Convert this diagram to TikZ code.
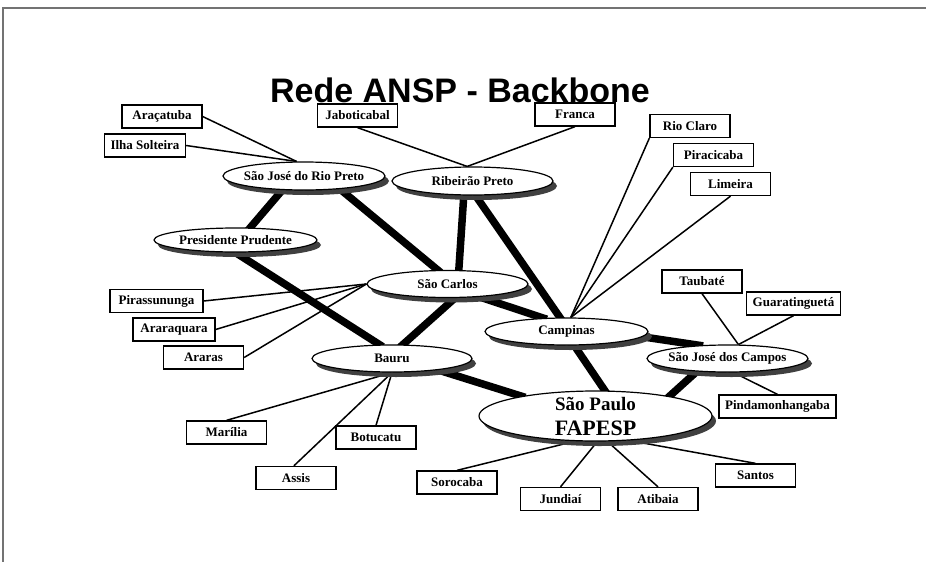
\documentclass[tikz,border=0pt]{standalone}
\usepackage{fontspec}
\setmainfont{Liberation Serif}
\newfontfamily\headfont{Liberation Sans}
\usetikzlibrary{shapes.geometric, shadows, backgrounds}
\tikzset{hub/.style={ellipse, draw, line width=1.2pt, fill=white, minimum width=161pt, minimum height=27pt, inner xsep=-10pt, inner ysep=0pt, font=\bfseries\fontsize{13}{14}\selectfont, drop shadow={shadow xshift=4pt, shadow yshift=-5pt, fill=black!75, opacity=1}}}
\tikzset{leaf/.style={draw, line width=1.3pt, fill=white, minimum width=80pt, minimum height=23pt, inner xsep=6pt, inner ysep=0pt, font=\bfseries\fontsize{13}{14}\selectfont}}
\tikzset{trunk/.style={draw, line width=7.5pt, shorten <=-4pt, shorten >=-4pt}}
\tikzset{twig/.style={draw, line width=1.5pt}}

\begin{document}
\begin{tikzpicture}[x=1pt, y=-1pt]
	\useasboundingbox (0,0) rectangle (926,562);
	\draw[black!55, line width=2pt] (3,562) -- (3,8) -- (926,8);
	\node[font=\headfont\bfseries\fontsize{34}{38}\selectfont] (title) at (460,90) {Rede ANSP - Backbone};
	%
	\node[hub, minimum width=162pt, minimum height=28pt] (sjrp) at (304,176) {São José do Rio Preto};
	\node[hub, minimum height=28pt] (rp) at (472.5,181) {Ribeirão Preto};
	\node[hub, minimum width=163pt, minimum height=24pt] (pp) at (235.5,240) {Presidente Prudente};
	\node[hub] (sc) at (447.5,284) {São Carlos};
	\node[hub, minimum width=160pt] (bauru) at (392,358.5) {Bauru};
	\node[hub, minimum width=163pt] (campinas) at (566.5,331.5) {Campinas};
	\node[hub] (sjc) at (727.5,358.5) {São José dos Campos};
	\node[hub, minimum width=233pt, minimum height=50pt, inner ysep=-8pt, align=center, font=\bfseries\fontsize{19}{24}\selectfont] (sp) at (595.5,416) {São Paulo\\[1pt]{\fontsize{22}{24}\selectfont FAPESP}};
	%
	\node[leaf] (aracatuba) at (162,116.5) {Araçatuba};
	\node[leaf, minimum width=79pt] (ilha) at (145,145.5) {Ilha Solteira};
	\node[leaf] (jabot) at (357.5,115.5) {Jaboticabal};
	\node[leaf] (franca) at (575,114.5) {Franca};
	\node[leaf] (rioclaro) at (690,126) {Rio Claro};
	\node[leaf] (piracicaba) at (713.5,155) {Piracicaba};
	\node[leaf] (limeira) at (730.5,184) {Limeira};
	\node[leaf, minimum width=93pt] (pirass) at (156.5,301) {Pirassununga};
	\node[leaf, minimum width=82pt] (araraq) at (174,329.5) {Araraquara};
	\node[leaf] (araras) at (203.5,357.5) {Araras};
	\node[leaf] (marilia) at (226.5,432.5) {Marília};
	\node[leaf] (botucatu) at (376,437.5) {Botucatu};
	\node[leaf] (assis) at (296,478) {Assis};
	\node[leaf] (taubate) at (702,281.5) {Taubaté};
	\node[leaf, minimum width=91pt] (guara) at (793.5,303.5) {Guaratinguetá};
	\node[leaf, minimum width=115pt] (pinda) at (777.5,406.5) {Pindamonhangaba};
	\node[leaf] (sorocaba) at (457,482.5) {Sorocaba};
	\node[leaf] (jundiai) at (560.5,499) {Jundiaí};
	\node[leaf] (atibaia) at (658,499) {Atibaia};
	\node[leaf] (santos) at (755.5,475.5) {Santos};
	%
	\begin{scope}[on background layer]
		\path[trunk] (sjrp.213) -- (pp.40);
		\path[trunk] (sjrp.340) -- (sc.125);
		\path[trunk] (pp.270) -- (bauru.132);
		\path[trunk] (rp.239) -- (sc.51);
		\path[trunk] (rp.282) -- (campinas.115);
		\path[trunk] (sc.298) -- (bauru.52);
		\path[trunk] (sc.338) -- (campinas.150);
		\path[trunk] (campinas.299) -- (sp.70);
		\path[trunk] (campinas.356) -- (sjc.155);
		\path[trunk] (bauru.346) -- (sp.165);
		\path[trunk] (sjc.203) -- (sp.15);
		%
		\path[twig] (aracatuba.east) -- (sjrp.117);
		\path[twig] (ilha.east) -- (sjrp.117);
		\path[twig] (jabot.south) -- (rp.110);
		\path[twig] (franca.south) -- (rp.110);
		\path[twig] (rioclaro.south west) -- (campinas.73);
		\path[twig] (piracicaba.south west) -- (campinas.73);
		\path[twig] (limeira.south) -- (campinas.73);
		\path[twig] (pirass.east) -- (sc.180);
		\path[twig] (araraq.east) -- (sc.180);
		\path[twig] (araras.east) -- (sc.180);
		\path[twig] (marilia.north) -- (bauru.270);
		\path[twig] (botucatu.north) -- (bauru.270);
		\path[twig] (assis.100) -- (bauru.270);
		\path[twig] (taubate.south) -- (sjc.52);
		\path[twig] (guara.south) -- (sjc.52);
		\path[twig] (pinda.north) -- (sjc.293);
		\path[twig] (sorocaba.north) -- (sp.231);
		\path[twig] (jundiai.north) -- (sp.274);
		\path[twig] (atibaia.north) -- (sp.295);
		\path[twig] (santos.north) -- (sp.324);
	\end{scope}
\end{tikzpicture}
\end{document}
